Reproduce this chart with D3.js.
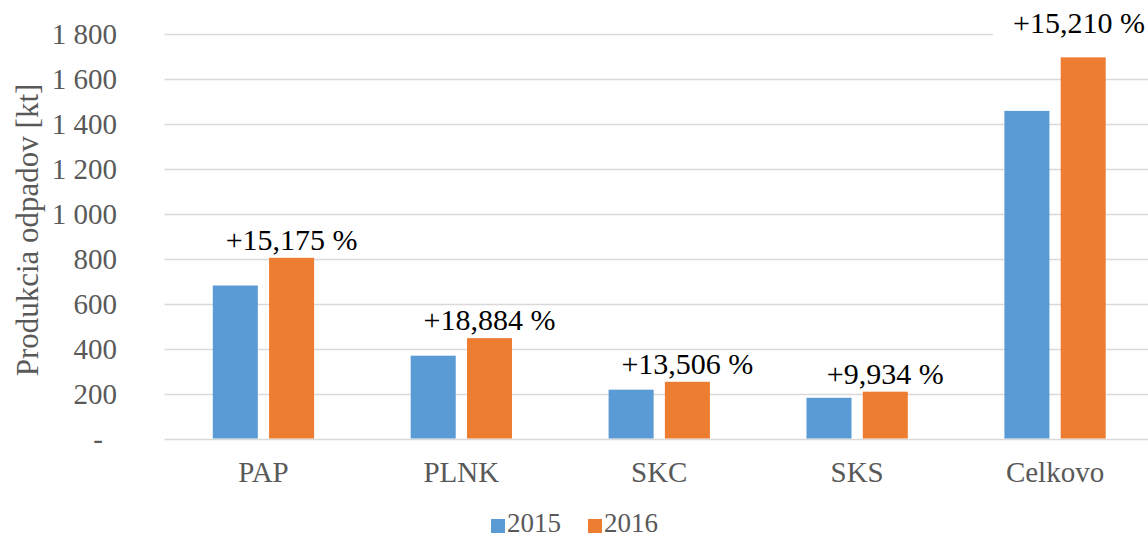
<!DOCTYPE html>
<html lang="sk">
<head>
<meta charset="UTF-8">
<title>Produkcia odpadov</title>
<script src="https://cdn.jsdelivr.net/npm/d3@7/dist/d3.min.js"></script>
<style>
  html, body { margin: 0; padding: 0; background: #fff; }
  svg { display: block; }
</style>
</head>
<body>
<script>
// data
const categories = ["PAP", "PLNK", "SKC", "SKS", "Celkovo"];
const series = ["2015", "2016"];
const values2015 = [680, 368, 217, 181, 1456];
const values2016 = [803, 446, 252, 208, 1694];
const changeLabels = ["+15,175 %", "+18,884 %", "+13,506 %", "+9,934 %", "+15,210 %"];
const yTicks = [0, 200, 400, 600, 800, 1000, 1200, 1400, 1600, 1800];

const W = 1148, H = 537;
const colors = ["#5b9bd5", "#ed7d31"];
const serif = "Liberation Serif";

const svg = d3.select("body").append("svg")
    .attr("width", W)
    .attr("height", H)
    .attr("font-family", serif);

const x0 = d3.scaleBand()
    .domain(categories)
    .range([164.5, 1154])
    .paddingInner(0.488)
    .paddingOuter(0.244);

const x1 = d3.scaleBand()
    .domain(series)
    .range([0, x0.bandwidth()])
    .paddingInner(0.2);

const y = d3.scaleLinear()
    .domain([0, 1800])
    .range([438.5, 33.5]);

// gridlines
svg.append("g")
    .selectAll("line")
    .data(yTicks)
    .join("line")
    .attr("x1", 164.5)
    .attr("x2", 1154)
    .attr("y1", d => Math.round(y(d)) + 0.5)
    .attr("y2", d => Math.round(y(d)) + 0.5)
    .attr("stroke", "#d9d9d9")
    .attr("stroke-width", 1.5);

// y axis labels (Excel style: thousands with space, zero as dash)
const fmt = d => d === 0 ? "-" : d3.format(",")(d).replace(/,/g, " ");
svg.append("g")
    .selectAll("text")
    .data(yTicks)
    .join("text")
    .attr("font-family", serif)
    .attr("x", d => d === 0 ? 103 : 117)
    .attr("y", d => y(d))
    .attr("dy", "0.35em")
    .attr("text-anchor", "end")
    .attr("fill", "#595959")
    .style("font-size", "29px")
    .text(fmt);

// axis title
svg.append("text")
    .attr("font-family", serif)
    .attr("transform", `translate(38,${(33.5 + 438.5) / 2 - 6}) rotate(-90)`)
    .attr("text-anchor", "middle")
    .attr("fill", "#595959")
    .style("font-size", "31px")
    .text("Produkcia odpadov [kt]");

// bars
const rows = categories.map((c, i) => ({ cat: c, vals: [values2015[i], values2016[i]], label: changeLabels[i] }));

const groups = svg.append("g")
    .selectAll("g")
    .data(rows)
    .join("g")
    .attr("transform", d => `translate(${x0(d.cat)},0)`);

groups.selectAll("rect")
    .data(d => d.vals.map((v, j) => ({ s: series[j], v, j })))
    .join("rect")
    .attr("x", d => x1(d.s))
    .attr("y", d => y(d.v))
    .attr("width", x1.bandwidth())
    .attr("height", d => y(0) - y(d.v))
    .attr("fill", d => colors[d.j]);

// category labels
svg.append("g")
    .selectAll("text")
    .data(categories)
    .join("text")
    .attr("font-family", serif)
    .attr("x", d => x0(d) + x0.bandwidth() / 2)
    .attr("y", 482)
    .attr("text-anchor", "middle")
    .attr("fill", "#595959")
    .style("font-size", "29px")
    .text(d => d);

// change labels above the 2016 bar
const maxVal = d3.max(values2016);
const lab = svg.append("g");
rows.forEach(d => {
    const cx = x0(d.cat) + x1("2016") + x1.bandwidth() / 2;
    const lift = d.vals[1] === maxVal ? 24 : 8;
    const t = lab.append("text")
        .attr("font-family", serif)
        .attr("y", y(d.vals[1]) - lift)
        .attr("text-anchor", "middle")
        .attr("fill", "#000")
        .style("font-size", "30px")
        .text(d.label);
    const w = t.node().getComputedTextLength();
    const xPos = Math.min(cx, W - 3 - w / 2);
    t.attr("x", xPos);
    if (d.vals[1] === maxVal) {
        const b = t.node().getBBox();
        lab.insert("rect", "text")
            .attr("x", b.x - 20)
            .attr("y", b.y)
            .attr("width", b.width + 40)
            .attr("height", b.height + 2)
            .attr("fill", "#fff");
    }
});

// legend
const legend = svg.append("g").attr("transform", "translate(491,532)");
const items = legend.selectAll("g")
    .data(series)
    .join("g")
    .attr("transform", (d, i) => `translate(${i * 97},0)`);
items.append("rect")
    .attr("x", 0)
    .attr("y", -13)
    .attr("width", 14)
    .attr("height", 14)
    .attr("fill", (d, i) => colors[i]);
items.append("text")
    .attr("font-family", serif)
    .attr("x", 16)
    .attr("y", 0)
    .attr("fill", "#595959")
    .style("font-size", "27px")
    .text(d => d);
</script>
</body>
</html>
